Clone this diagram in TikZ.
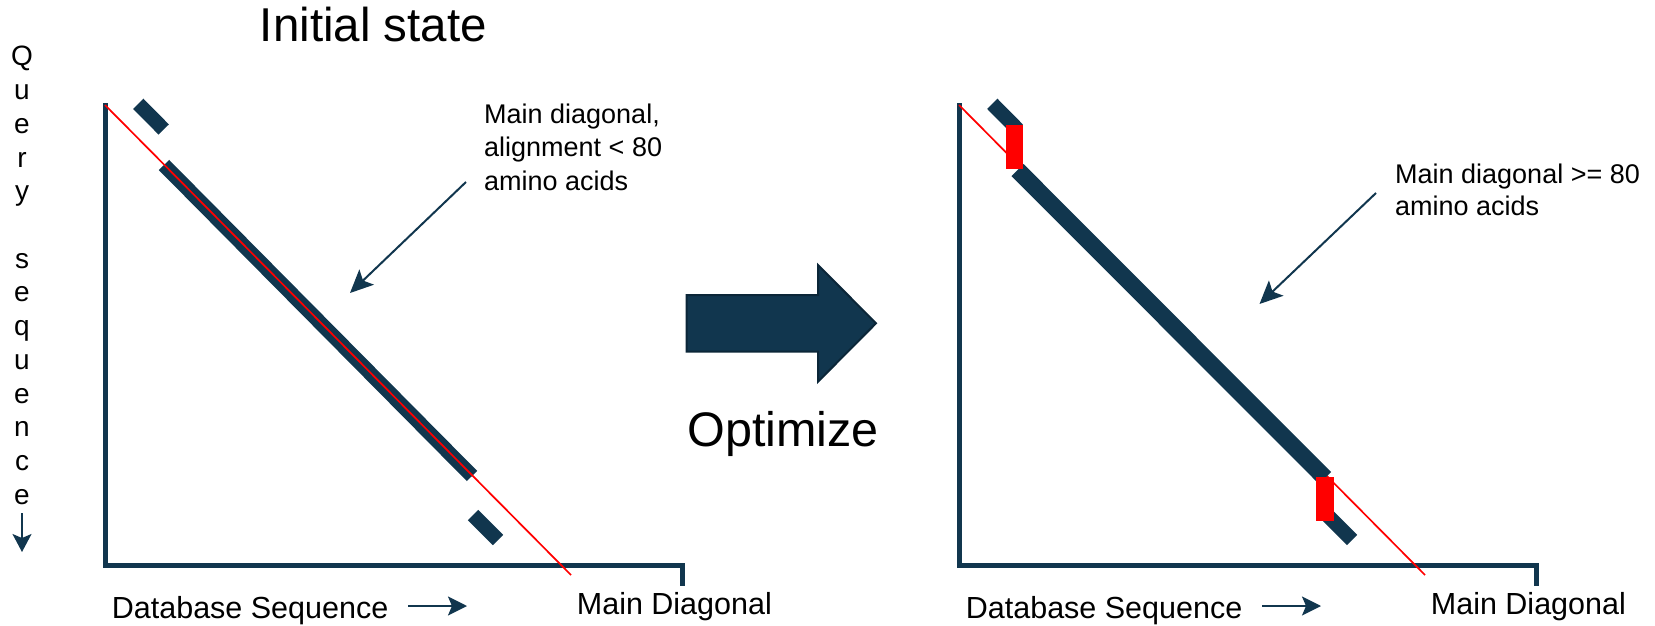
\documentclass[tikz,border=0pt]{standalone}
\usepackage{fontspec}
\setmainfont{Liberation Sans}
\usetikzlibrary{arrows.meta, calc}
\definecolor{NavyColor}{RGB}{17, 54, 78}
\definecolor{NavyEdge}{RGB}{11, 38, 56}

\begin{document}
\begin{tikzpicture}[x=1pt, y=-1pt,
  axis/.style={draw=NavyColor, line width=5pt, line join=miter},
  hit/.style={draw=NavyColor, line width=14.5pt},
  diag/.style={draw=red, line width=1.7pt},
  gap/.style={fill=red},
  pointer/.style={-{Stealth[length=23pt, width=21pt, inset=5pt]}, draw=NavyColor, line width=2pt},
  dirarrow/.style={-{Stealth[length=19pt, width=19pt, inset=4pt]}, draw=NavyColor, line width=2pt},
  note/.style={anchor=base west, inner sep=0pt, align=left, font=\fontsize{27}{33.3}\selectfont},
  axlabel/.style={anchor=base west, inner sep=0pt, font=\fontsize{30.5}{36}\selectfont},
  big/.style={anchor=base, inner sep=0pt, font=\fontsize{47.5}{55}\selectfont}]

\useasboundingbox (0,0) rectangle (1655,626);

% query axis label
\foreach \c/\i in {Q/0,u/1,e/2,r/3,y/4,s/6,e/7,q/8,u/9,e/10,n/11,c/12,e/13}
  \node[anchor=base, inner sep=0pt, font=\fontsize{28}{33}\selectfont] (qs\i) at (22,66+33.7*\i) {\c};
\coordinate (qa1) at (22,513);
\coordinate (qa2) at (22,552);
\draw[-{Stealth[length=18pt, width=19pt, inset=4pt]}, draw=NavyColor, line width=1.7pt] (qa1) -- (qa2);

% left plot: initial state
\node[big] (title) at (373.4,41.7) {Initial state};
\draw[axis] (105,103) -- (105,565) -- (682,565) -- (682,586);
\draw[hit] (138.3,103.8) -- (163.7,129.5);
\draw[hit] (164,165) -- (472,476);
\draw[hit] (473,515) -- (498,540);
\draw[diag] (105,105) -- (571,575);

\node[note] (noteL) at (484,190) {Main diagonal,\\alignment < 80\\amino acids};
\coordinate (pL1) at (466,182);
\coordinate (pL2) at (350,293);
\draw[pointer] (pL1) -- (pL2);

\node[axlabel] (dbL) at (111.7,618.3) {Database Sequence};
\coordinate (dL1) at (408,606);
\coordinate (dL2) at (467,606);
\draw[dirarrow] (dL1) -- (dL2);
\node[axlabel] (mdL) at (576.7,614) {Main Diagonal};

% optimize arrow
\draw[fill=NavyColor, draw=NavyEdge, line width=2pt, line join=miter]
  (686.7,295) -- (818,295) -- (818,265) -- (876,323.3) -- (818,381.7) -- (818,351.7) -- (686.7,351.7) -- cycle;
\node[big, font=\fontsize{48.5}{55}\selectfont] (optimize) at (783,446.7) {Optimize};

% right plot: optimized
\draw[axis] (959,103) -- (959,565) -- (1536,565) -- (1536,586);
\draw[diag] (959,105) -- (1425,575);
\draw[hit] (992.3,103.8) -- (1017.7,129.5);
\draw[hit, line width=17pt] (1017.5,170) -- (1325,478);
\draw[hit] (1327,515) -- (1352,540);
\fill[gap] (1006.4,125) rectangle (1023.3,169.3);
\fill[gap] (1315.6,476.7) rectangle (1333.5,521);

\node[note, font=\fontsize{27}{32}\selectfont] (noteR) at (1395,215) {Main diagonal >= 80\\amino acids};
\coordinate (pR1) at (1376,193);
\coordinate (pR2) at (1259.5,304);
\draw[pointer] (pR1) -- (pR2);

\node[axlabel] (dbR) at (965.7,618.3) {Database Sequence};
\coordinate (dR1) at (1262,606);
\coordinate (dR2) at (1321,606);
\draw[dirarrow] (dR1) -- (dR2);
\node[axlabel] (mdR) at (1430.7,614) {Main Diagonal};

\end{tikzpicture}
\end{document}
